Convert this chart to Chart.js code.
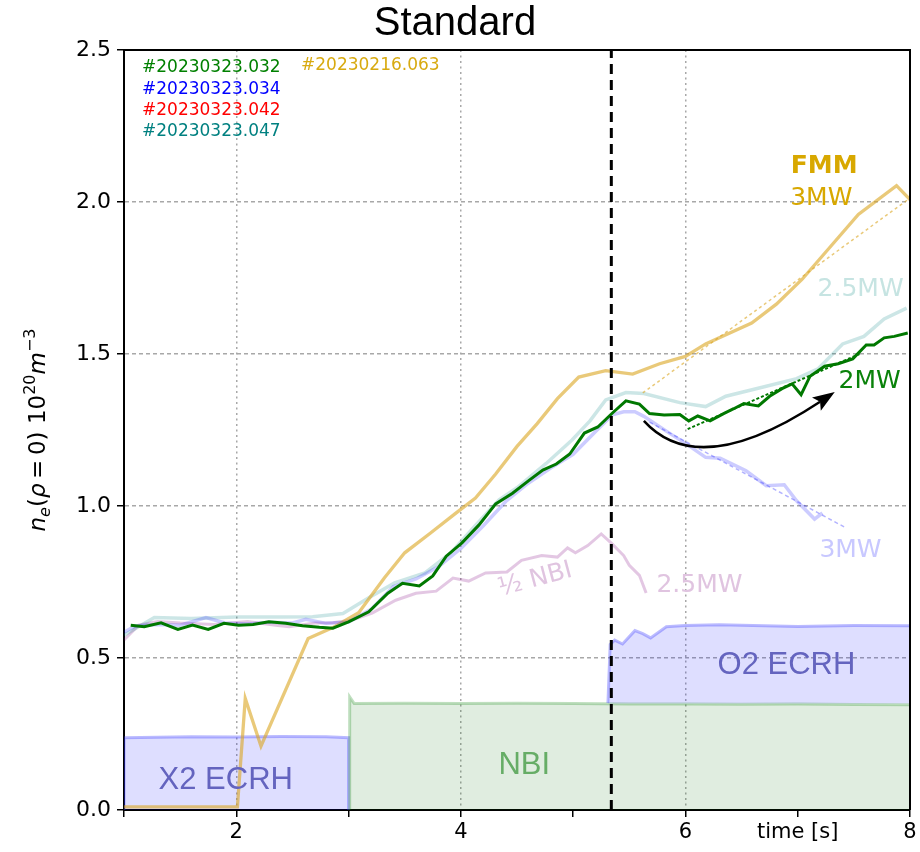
<!DOCTYPE html>
<html>
<head>
<meta charset="utf-8">
<title>Standard</title>
<script src="https://cdn.jsdelivr.net/npm/chart.js@4.4.1/dist/chart.umd.min.js"></script>
<style>
  html, body { margin: 0; padding: 0; background: #fff; }
  #wrap { width: 920px; height: 852px; }
</style>
</head>
<body>
<div id="wrap"><canvas id="chart" width="920" height="852"></canvas></div>
<script>
// axes
const xTicks = [1, 2, 3, 4, 5, 6, 7, 8];
const xLabels = { 2: '2', 4: '4', 6: '6', 7: 'time [s]', 8: '8' };
const yTicks = [0, 0.5, 1.0, 1.5, 2.0, 2.5];

// shot list (top left)
const shots = ['#20230323.032', '#20230323.034', '#20230323.042', '#20230323.047'];
const shotColors = ['#008000', '#0000ff', '#ff0000', '#008080'];
const fmmShot = '#20230216.063';

// #20230216.063 (FMM, 3MW)
const t063 = [1.0, 2.01, 2.08, 2.22, 2.64, 2.86, 3.09, 3.32, 3.5, 3.73, 3.95, 4.13, 4.31, 4.5, 4.68, 4.86, 5.05, 5.29, 5.53, 5.77, 6.0, 6.18, 6.59, 6.81, 7.04, 7.31, 7.54, 7.88, 8.0];
const ne063 = [0.01, 0.01, 0.367, 0.21, 0.564, 0.6, 0.649, 0.764, 0.846, 0.911, 0.975, 1.026, 1.105, 1.196, 1.271, 1.353, 1.424, 1.445, 1.434, 1.468, 1.492, 1.533, 1.602, 1.664, 1.746, 1.861, 1.959, 2.054, 2.008];
const fitT063 = [5.62, 8.0];
const fitNe063 = [1.372, 2.013];

// #20230323.047 (2.5MW)
const t047 = [1.0, 1.27, 1.6, 2.0, 2.4, 2.68, 2.95, 3.18, 3.41, 3.68, 3.91, 4.13, 4.34, 4.5, 4.76, 4.99, 5.15, 5.29, 5.47, 5.63, 5.95, 6.18, 6.36, 6.72, 6.99, 7.18, 7.40, 7.59, 7.77, 7.97];
const ne047 = [0.575, 0.633, 0.63, 0.635, 0.635, 0.636, 0.646, 0.698, 0.747, 0.78, 0.846, 0.936, 1.02, 1.06, 1.14, 1.217, 1.28, 1.349, 1.373, 1.37, 1.34, 1.327, 1.361, 1.394, 1.419, 1.451, 1.533, 1.558, 1.615, 1.651];

// #20230323.032 (2MW)
const t032 = [1.06, 1.18, 1.33, 1.48, 1.61, 1.75, 1.89, 2.02, 2.15, 2.29, 2.44, 2.59, 2.74, 2.86, 3.0, 3.18, 3.35, 3.48, 3.63, 3.75, 3.87, 4.01, 4.16, 4.31, 4.46, 4.61, 4.73, 4.85, 4.97, 5.10, 5.22, 5.35, 5.47, 5.59, 5.68, 5.81, 5.95, 6.03, 6.11, 6.22, 6.34, 6.43, 6.52, 6.65, 6.75, 6.86, 6.95, 7.03, 7.11, 7.24, 7.36, 7.49, 7.61, 7.68, 7.77, 7.86, 7.98];
const ne032 = [0.608, 0.603, 0.616, 0.594, 0.608, 0.594, 0.614, 0.608, 0.61, 0.619, 0.614, 0.606, 0.601, 0.598, 0.619, 0.652, 0.713, 0.746, 0.737, 0.77, 0.835, 0.879, 0.937, 1.007, 1.042, 1.085, 1.118, 1.138, 1.171, 1.24, 1.26, 1.306, 1.346, 1.335, 1.304, 1.299, 1.301, 1.28, 1.296, 1.28, 1.304, 1.32, 1.337, 1.329, 1.361, 1.386, 1.402, 1.366, 1.427, 1.46, 1.468, 1.484, 1.53, 1.53, 1.553, 1.558, 1.569];
const fitT032 = [6.02, 7.55];
const fitNe032 = [1.253, 1.5];

// #20230323.034 (3MW)
const t034 = [1.0, 1.1, 1.3, 1.5, 1.73, 1.9, 2.1, 2.3, 2.5, 2.62, 2.8, 3.0, 3.2, 3.4, 3.6, 3.8, 4.0, 4.2, 4.4, 4.6, 4.8, 5.0, 5.2, 5.35, 5.45, 5.55, 5.63, 5.86, 6.0, 6.18, 6.31, 6.54, 6.72, 6.88, 6.99, 7.15, 7.22];
const ne034 = [0.585, 0.605, 0.61, 0.608, 0.633, 0.615, 0.612, 0.618, 0.615, 0.627, 0.614, 0.618, 0.66, 0.735, 0.76, 0.8, 0.86, 0.935, 1.015, 1.075, 1.125, 1.17, 1.245, 1.3, 1.31, 1.31, 1.295, 1.239, 1.206, 1.16, 1.157, 1.116, 1.067, 1.07, 1.017, 0.957, 0.977];
const fitT034 = [5.68, 7.43];
const fitNe034 = [1.276, 0.928];

// #20230323.042 (1/2 NBI, 2.5MW)
const t042 = [1.0, 1.13, 1.3, 1.5, 1.8, 2.1, 2.35, 2.47, 2.7, 2.86, 3.03, 3.21, 3.42, 3.6, 3.78, 3.93, 4.07, 4.22, 4.41, 4.54, 4.72, 4.86, 4.95, 5.02, 5.13, 5.25, 5.34, 5.45, 5.5, 5.59, 5.65];
const ne042 = [0.559, 0.608, 0.62, 0.615, 0.61, 0.62, 0.608, 0.603, 0.615, 0.616, 0.625, 0.648, 0.69, 0.713, 0.72, 0.763, 0.753, 0.78, 0.783, 0.821, 0.837, 0.832, 0.862, 0.846, 0.87, 0.908, 0.878, 0.837, 0.805, 0.772, 0.714];

// heating power traces (arb. scaled)
const x2T = [1.0, 1.0, 1.3, 1.6, 2.0, 2.4, 2.8, 3.0, 3.0];
const x2P = [0, 0.238, 0.239, 0.241, 0.240, 0.242, 0.241, 0.238, 0];
const nbiT = [3.01, 3.01, 3.05, 3.5, 4.0, 4.5, 5.0, 5.5, 6.0, 6.5, 7.0, 7.5, 8.0];
const nbiP = [0, 0.372, 0.35, 0.351, 0.35, 0.351, 0.35, 0.349, 0.349, 0.348, 0.349, 0.347, 0.346];
const o2T = [5.31, 5.33, 5.37, 5.44, 5.55, 5.62, 5.69, 5.83, 6.0, 6.3, 6.7, 7.0, 7.5, 8.0];
const o2P = [0.352, 0.545, 0.559, 0.546, 0.59, 0.58, 0.566, 0.603, 0.607, 0.609, 0.606, 0.604, 0.607, 0.606];

const switchT = 5.34; // O2 switch-on

const pts = (ts, vs) => ts.map((t, i) => ({ x: t, y: vs[i] }));

function line(data, color, width, order, extra) {
	return Object.assign({ data, borderColor: color, borderWidth: width, pointRadius: 0, fill: false, tension: 0, order }, extra || {});
}

const datasets = [
	line([{ x: switchT, y: 0 }, { x: switchT, y: 2.5 }], '#000', 3, 0, { borderDash: [10, 6] }),
	line(pts(t032, ne032), '#007800', 3, 1),
	line(pts(fitT032, fitNe032), '#007800', 2, 2, { borderDash: [3, 2] }),
	line(pts(fitT034, fitNe034), 'rgba(0,0,255,0.3)', 1.5, 3, { borderDash: [4, 3] }),
	line(pts(t034, ne034), 'rgba(0,0,255,0.2)', 3.5, 4),
	line(pts(fitT063, fitNe063), 'rgba(218,165,32,0.6)', 1.5, 5, { borderDash: [3, 3] }),
	line(pts(t063, ne063), 'rgba(218,165,32,0.6)', 3.3, 6),
	line(pts(t047, ne047), 'rgba(0,128,128,0.2)', 3.5, 7),
	line(pts(t042, ne042), 'rgba(128,0,128,0.22)', 3, 8),
	line(pts(o2T, o2P), 'rgba(60,60,255,0.35)', 3, 9, { fill: { value: 0.35 }, backgroundColor: 'rgba(0,0,255,0.13)' }),
	line(pts(nbiT, nbiP), 'rgba(0,128,0,0.25)', 3, 10, { fill: 'origin', backgroundColor: 'rgba(0,110,0,0.12)' }),
	line(pts(x2T, x2P), 'rgba(60,60,255,0.35)', 3, 11, { fill: 'origin', backgroundColor: 'rgba(0,0,255,0.13)' })
];

function label(chart, text, t, v, color, font, rot) {
	const { ctx, scales: { x, y } } = chart;
	ctx.save();
	ctx.translate(x.getPixelForValue(t), y.getPixelForValue(v));
	if (rot) ctx.rotate(rot);
	ctx.font = font;
	ctx.fillStyle = color;
	ctx.textAlign = 'center';
	ctx.textBaseline = 'middle';
	ctx.fillText(text, 0, 0);
	ctx.restore();
}

const decor = {
	id: 'decor',
	afterDatasetsDraw(chart) {
		const { ctx, chartArea: a, scales: { x, y } } = chart;
		const big = '31px "Liberation Sans"';
		const mid = '25px "DejaVu Sans"';
		label(chart, 'X2 ECRH', 1.906, 0.096, '#6464bf', big);
		label(chart, 'NBI', 4.565, 0.148, '#66ad66', big);
		label(chart, 'O2 ECRH', 6.9, 0.474, '#6464bf', big);
		label(chart, 'FMM', 7.236, 2.118, '#d8a800', 'bold 25px "DejaVu Sans"');
		label(chart, '3MW', 7.21, 2.01, '#d8a800', mid);
		label(chart, '2.5MW', 7.56, 1.711, '#c6e4e2', mid);
		label(chart, '2MW', 7.64, 1.408, '#0a820a', mid);
		label(chart, '3MW', 7.47, 0.855, '#c8c8ff', mid);
		label(chart, '½ NBI', 4.663, 0.757, '#e0c4e0', mid, -0.26);
		label(chart, '2.5MW', 6.125, 0.74, '#e0c4e0', mid);

		// curved arrow
		const p0 = [x.getPixelForValue(5.63), y.getPixelForValue(1.28)];
		const pc = [x.getPixelForValue(6.12), y.getPixelForValue(1.08)];
		const p1 = [x.getPixelForValue(7.33), y.getPixelForValue(1.375)];
		const ang = Math.atan2(p1[1] - pc[1], p1[0] - pc[0]);
		const hl = 22, hw = 8;
		const bx = p1[0] - hl * 0.8 * Math.cos(ang), by = p1[1] - hl * 0.8 * Math.sin(ang);
		ctx.save();
		ctx.strokeStyle = '#000';
		ctx.fillStyle = '#000';
		ctx.lineWidth = 2.5;
		ctx.beginPath();
		ctx.moveTo(p0[0], p0[1]);
		ctx.quadraticCurveTo(pc[0], pc[1], bx, by);
		ctx.stroke();
		ctx.beginPath();
		ctx.moveTo(p1[0], p1[1]);
		ctx.lineTo(p1[0] - hl * Math.cos(ang) + hw * Math.sin(ang), p1[1] - hl * Math.sin(ang) - hw * Math.cos(ang));
		ctx.lineTo(bx, by);
		ctx.lineTo(p1[0] - hl * Math.cos(ang) - hw * Math.sin(ang), p1[1] - hl * Math.sin(ang) + hw * Math.cos(ang));
		ctx.closePath();
		ctx.fill();
		ctx.restore();

		// shot list
		ctx.save();
		ctx.font = '17px "DejaVu Sans"';
		ctx.textAlign = 'left';
		ctx.textBaseline = 'middle';
		shots.forEach((s, i) => {
			ctx.fillStyle = shotColors[i];
			ctx.fillText(s, a.left + 18, a.top + 18 + i * 21.2);
		});
		ctx.fillStyle = '#d8aa10';
		ctx.fillText(fmmShot, a.left + 177, a.top + 16);
		ctx.restore();
	},
	afterDraw(chart) {
		const { ctx, chartArea: a } = chart;
		ctx.save();
		ctx.strokeStyle = '#000';
		ctx.lineWidth = 2;
		ctx.beginPath();
		ctx.moveTo(a.left - 1, a.top);
		ctx.lineTo(a.right, a.top);
		ctx.lineTo(a.right, a.bottom);
		ctx.stroke();

		// y axis title: n_e(rho=0) 10^20 m^-3
		const parts = [
			['n', 'italic ', 23, 0], ['e', 'italic ', 16, 5], ['(', '', 23, 0], ['ρ', 'italic ', 23, 0],
			['\u2009=\u20090)', '', 23, 0], [' 10', '', 23, 0], ['20', '', 16, -10], ['m', 'italic ', 23, 0], ['−3', '', 16, -10]
		];
		let total = 0;
		parts.forEach(p => { ctx.font = p[1] + p[2] + 'px "DejaVu Sans"'; total += ctx.measureText(p[0]).width; });
		ctx.translate(37, (a.top + a.bottom) / 2);
		ctx.rotate(-Math.PI / 2);
		ctx.fillStyle = '#000';
		ctx.textAlign = 'left';
		ctx.textBaseline = 'alphabetic';
		let cx = -total / 2;
		parts.forEach(p => {
			ctx.font = p[1] + p[2] + 'px "DejaVu Sans"';
			ctx.fillText(p[0], cx, 8 + p[3]);
			cx += ctx.measureText(p[0]).width;
		});
		ctx.restore();
	}
};

const gridGrey = '#a8a8a8';

new Chart(document.getElementById('chart'), {
	type: 'line',
	data: { datasets },
	options: {
		responsive: false,
		animation: false,
		layout: { padding: { right: 10 } },
		plugins: {
			legend: { display: false },
			tooltip: { enabled: false },
			title: {
				display: true, text: 'Standard', color: '#000',
				font: { family: 'Liberation Sans', size: 40, weight: 'normal' },
				padding: { top: 0, bottom: 2 }
			}
		},
		scales: {
			x: {
				type: 'linear', min: 1, max: 8,
				afterBuildTicks: s => { s.ticks = xTicks.map(v => ({ value: v })); },
				afterFit: s => { s.height = 42; },
				ticks: {
					autoSkip: false, maxRotation: 0, padding: 3, color: '#000',
					font: { family: 'DejaVu Sans', size: 21 },
					callback: v => xLabels[v] || ''
				},
				grid: {
					color: c => [2, 4, 6].includes(c.tick && c.tick.value) ? gridGrey : 'rgba(0,0,0,0)',
					lineWidth: 1.5, tickColor: '#000', tickLength: 7, tickWidth: 1.5
				},
				border: { color: '#000', width: 2, dash: [2, 3.5] }
			},
			y: {
				type: 'linear', min: 0, max: 2.5,
				afterBuildTicks: s => { s.ticks = yTicks.map(v => ({ value: v })); },
				afterFit: s => { s.width = 124; },
				ticks: {
					padding: 6, color: '#000',
					font: { family: 'DejaVu Sans', size: 22 },
					callback: v => v.toFixed(1)
				},
				grid: {
					color: c => (c.tick && c.tick.value > 0 && c.tick.value < 2.5) ? gridGrey : 'rgba(0,0,0,0)',
					lineWidth: 1.5, tickColor: '#000', tickLength: 7, tickWidth: 1.5
				},
				border: { color: '#000', width: 2, dash: [4, 3] }
			}
		}
	},
	plugins: [decor]
});
</script>
</body>
</html>
